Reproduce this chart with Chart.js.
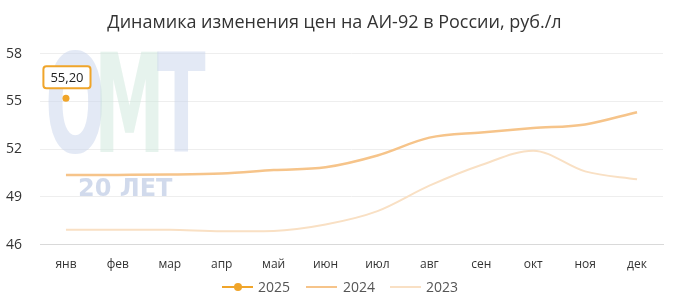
<!DOCTYPE html>
<html><head><meta charset="utf-8">
<script src="https://cdn.jsdelivr.net/npm/chart.js@4.4.1/dist/chart.umd.min.js"></script>
<style>
html,body{margin:0;padding:0;background:#fff;}
#wrap{position:relative;width:679px;height:301px;}
#legend{position:absolute;left:0;top:276px;width:679px;height:22px;font-family:"Open Sans",sans-serif;font-size:14px;color:#555;}
.li{position:absolute;top:0;line-height:22px;}
.sw{position:absolute;top:10px;height:2px;width:31px;}
</style></head><body>
<div id="wrap"><canvas id="c" width="679" height="301"></canvas>
<div id="legend"></div></div>
<script>
const months = ["янв","фев","мар","апр","май","июн","июл","авг","сен","окт","ноя","дек"];
const yTicks = [46,49,52,55,58];
const s2025 = [55.20,null,null,null,null,null,null,null,null,null,null,null];
const s2024 = [50.37,50.38,50.40,50.47,50.68,50.86,51.60,52.72,53.05,53.32,53.55,54.32];
const s2023 = [46.94,46.94,46.93,46.84,46.86,47.26,48.10,49.70,51.00,51.90,50.60,50.10];
const seriesNames = ["2025","2024","2023"];
const colors = ["#f0a52a","#f6c48a","#f9e0c4"];

const watermark = {
  id:'wm',
  beforeDatasetsDraw(chart){
    const ctx = chart.ctx;
    ctx.save();
    ctx.font = 'bold 120px "DejaVu Sans Condensed", sans-serif';
    ctx.textBaseline = 'alphabetic';
    ctx.setTransform(0.66,0,0,1.14,0,0);
    ctx.fillStyle = 'rgba(200,212,235,0.5)';
    ctx.fillText('О', 45/0.66, 152/1.14);
    ctx.fillStyle = 'rgba(205,232,220,0.5)';
    ctx.fillText('М', 94/0.66, 152/1.14);
    ctx.fillStyle = 'rgba(200,212,235,0.5)';
    ctx.fillText('Т', 157/0.66, 152/1.14);
    ctx.setTransform(1,0,0,1,0,0);
    ctx.font = 'bold 24px "DejaVu Sans", sans-serif';
    ctx.fillStyle = 'rgba(190,203,228,0.7)';
    ctx.fillText('20 ЛЕТ', 78, 196);
    ctx.restore();
  }
};
const bubble = {
  id:'bubble',
  afterDatasetsDraw(chart){
    const meta = chart.getDatasetMeta(0);
    const p = meta.data[0];
    if(!p) return;
    const ctx = chart.ctx;
    const txt = s2025[0].toFixed(2).replace('.',',');
    ctx.save();
    ctx.font = '13px "Open Sans", sans-serif';
    const w = ctx.measureText(txt).width + 14, h = 22;
    const x = p.x - w/2 + 1, y = p.y - 32;
    ctx.beginPath();
    ctx.roundRect(x, y, w, h, 3);
    ctx.fillStyle = '#fff'; ctx.fill();
    ctx.lineWidth = 2; ctx.strokeStyle = '#f0a52a'; ctx.stroke();
    ctx.fillStyle = '#222'; ctx.textAlign = 'center'; ctx.textBaseline = 'middle';
    ctx.fillText(txt, x + w/2, y + h/2 + 1);
    ctx.restore();
  }
};

new Chart(document.getElementById('c'), {
  type:'line',
  data:{labels:months, datasets:[
    {label:seriesNames[0], data:s2025, borderColor:colors[0], backgroundColor:colors[0], pointRadius:3.5, pointBorderWidth:0, borderWidth:2.5, order:0},
    {label:seriesNames[1], data:s2024, borderColor:colors[1], pointRadius:0, borderWidth:2.5, cubicInterpolationMode:'monotone', order:1},
    {label:seriesNames[2], data:s2023, borderColor:colors[2], pointRadius:0, borderWidth:2, cubicInterpolationMode:'monotone', order:2}
  ]},
  options:{
    responsive:false, animation:false,
    layout:{padding:{left:6,right:16,top:0,bottom:24}},
    plugins:{
      legend:{display:false}, tooltip:{enabled:false},
      title:{display:true, text:'Динамика изменения цен на АИ-92 в России, руб./л', color:'#333',
        font:{family:'"Open Sans", sans-serif', size:18, weight:'normal'}, padding:{top:12,bottom:20}}
    },
    scales:{
      x:{offset:true, grid:{display:false}, border:{color:'#d9d9d9'},
        ticks:{color:'#333', font:{family:'"Open Sans", sans-serif', size:12}, padding:5}},
      y:{min:46, max:58, afterBuildTicks(ax){ax.ticks = yTicks.map(v=>({value:v}));},
        afterFit(ax){ax.width = 34;},
        grid:{color:'#eeeeee', drawTicks:false}, border:{display:false},
        ticks:{color:'#333', font:{family:'"Open Sans", sans-serif', size:14}, padding:10, crossAlign:'far'}}
    }
  },
  plugins:[watermark,bubble]
});

const lg = document.getElementById('legend');
const lx = [[222,258],[306,343],[390,426]];
seriesNames.forEach((n,i)=>{
  const sw = document.createElement('div');
  sw.className='sw'; sw.style.left=lx[i][0]+'px'; sw.style.background=colors[i];
  lg.appendChild(sw);
  if(i===0){
    const d=document.createElement('div');
    d.style.cssText='position:absolute;top:7px;left:'+(lx[i][0]+12)+'px;width:8px;height:8px;border-radius:50%;background:'+colors[0];
    lg.appendChild(d);
  }
  const t=document.createElement('div'); t.className='li'; t.style.left=lx[i][1]+'px'; t.textContent=n;
  lg.appendChild(t);
});
</script></body></html>
